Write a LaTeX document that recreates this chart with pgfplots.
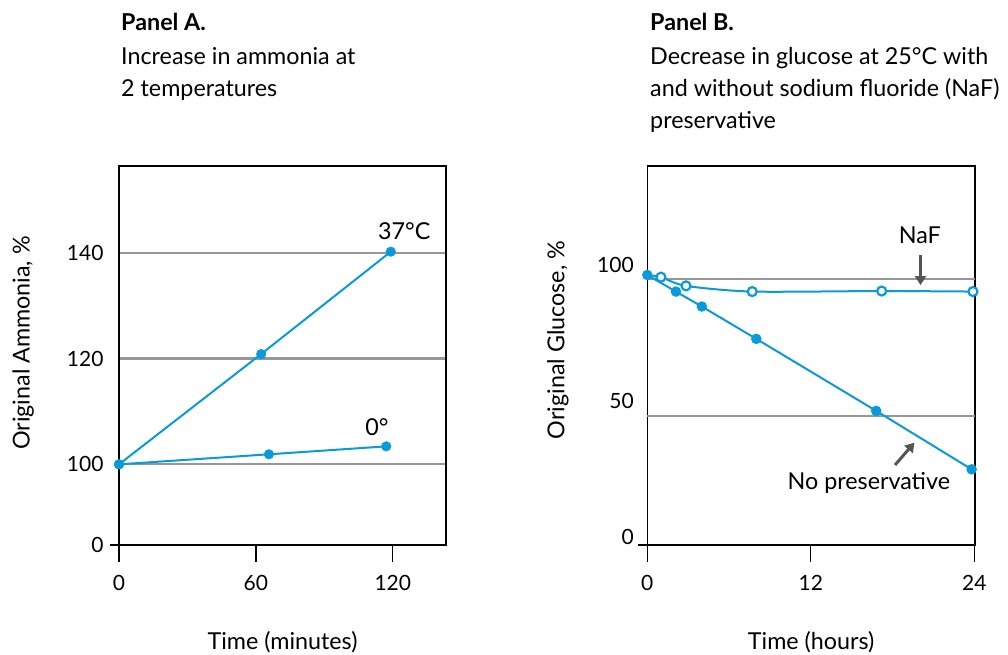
\documentclass[border=0pt]{standalone}
\usepackage{fontspec}
\setmainfont{Lato}
\usepackage{pgfplots}
\pgfplotsset{compat=1.18}
\usetikzlibrary{arrows.meta}
\definecolor{lineblue}{HTML}{0A9AD9}
\definecolor{gridgray}{HTML}{979797}
\definecolor{arrowgray}{HTML}{555555}
\newcommand{\tfont}{\fontsize{23.3}{28}\selectfont}
\newcommand{\kfont}{\fontsize{21}{24}\selectfont}

\pgfplotsset{
  panel/.style={
    scale only axis, clip=false,
    /pgf/number format/assume math mode=true,
    axis line style={black, line width=1.3pt},
    tick align=outside,
    xtick pos=bottom,
    x tick style={black, line width=1.3pt},
    major tick length=17pt,
    y tick style={draw=none},
    tick label style={font=\kfont},
    label style={font=\tfont},
    xticklabel style={yshift=-10pt},
    major grid style={gridgray, line width=2.2pt},
    every axis plot/.append style={lineblue, line width=2pt},
  },
}

\begin{document}
\begin{tikzpicture}
\path[use as bounding box] (0pt,0pt) rectangle (1008pt,-654pt);

% ---- titles ----
\node[anchor=base west, inner sep=0, font=\tfont] at (121pt,-30pt) {\bfseries Panel A.};
\node[anchor=base west, inner sep=0, font=\tfont] at (121pt,-64pt) {Increase in ammonia at};
\node[anchor=base west, inner sep=0, font=\tfont] at (121pt,-96pt) {2 temperatures};

\node[anchor=base west, inner sep=0, font=\tfont] at (650pt,-30pt) {\bfseries Panel B.};
\node[anchor=base west, inner sep=0, font=\tfont] at (650pt,-64pt) {Decrease in glucose at 25°C with};
\node[anchor=base west, inner sep=0, font=\tfont] at (650pt,-96pt) {and without sodium fluoride (NaF)};
\node[anchor=base west, inner sep=0, font=\tfont] at (650pt,-128pt) {preservative};

% ---- Panel A ----
\begin{axis}[panel,
  at={(119pt,-545pt)}, anchor=south west,
  width=327pt, height=379pt,
  xmin=0, xmax=143.3, ymin=84.75, ymax=156.4,
  xtick={0,60,120},
  ytick={100,120,140}, ymajorgrids,
  extra y ticks={84.75}, extra y tick labels={0},
  extra y tick style={grid=none},
  yticklabel style={xshift=5pt},
  xlabel={Time (minutes)},
  xlabel style={at={(axis description cs:0.5,0)}, anchor=center, yshift=-97pt},
  ylabel={Original Ammonia, \%},
  ylabel style={at={(axis description cs:-0.2927,0.533)}, anchor=center},
]
\draw[black, line width=1.3pt] (rel axis cs:0,0) -- ([xshift=-9pt]rel axis cs:0,0);
% 37 C
\addplot[mark=*, mark size=4pt] coordinates {(0,100) (62.3,120.85) (119.1,140.2)};
% 0 C
\addplot[mark=*, mark size=4pt] coordinates {(0,100) (65.7,101.9) (117.1,103.4)};
\node[font=\tfont] at (axis cs:125,144) {37°C};
\node[font=\tfont] at (axis cs:113,107.1) {0°};
\end{axis}

% ---- Panel B ----
\begin{axis}[panel,
  at={(647.3pt,-545pt)}, anchor=south west,
  width=327.7pt, height=379pt,
  xmin=0, xmax=24.05, ymin=-3.05, ymax=136.4,
  xtick={0,12,24},
  ytick={0,50,100},
  extra y ticks={44.5,94.85}, extra y tick labels={},
  extra y tick style={grid=major},
  yticklabel style={xshift=7pt},
  xlabel={Time (hours)},
  xlabel style={at={(axis description cs:0.5,0)}, anchor=center, yshift=-97pt},
  ylabel={Original Glucose, \%},
  ylabel style={at={(axis description cs:-0.2725,0.541)}, anchor=center},
]
\draw[black, line width=1.3pt] (rel axis cs:0,0) -- ([xshift=-9pt]rel axis cs:0,0);
% NaF
\addplot[smooth, tension=0.45, mark=*, mark indices={2,3,4,5,6},
  mark options={fill=white, line width=2.2pt}, mark size=4.5pt]
  coordinates {(0,96.3) (1.0,95.5) (2.84,92.3) (7.7,90.2) (17.2,90.4) (23.9,90.2)};
% No preservative
\addplot[mark=*, mark size=4.2pt] coordinates {(0,96.3) (2.1,90.2) (4.0,84.7) (8.0,72.8) (16.8,46.3) (23.8,24.8)};
\node[font=\tfont] at (axis cs:20.0,111.0) {NaF};
\node[font=\tfont] at (axis cs:16.26,19.65) {No preservative};
\draw[arrowgray, line width=3pt, -{Triangle[width=11pt,length=9pt]}] (axis cs:20.05,103.7) -- (axis cs:20.05,92.6);
\draw[arrowgray, line width=3pt, -{Triangle[width=11pt,length=9pt]}] (axis cs:18.18,26.4) -- (axis cs:19.6,34.6);
\end{axis}
\end{tikzpicture}
\end{document}
